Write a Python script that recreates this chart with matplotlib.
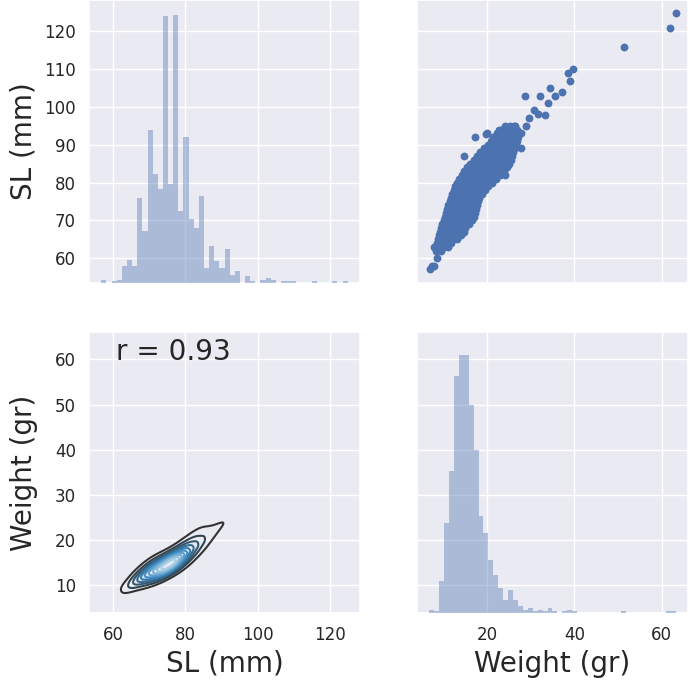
import numpy as np
import matplotlib
matplotlib.use("Agg")
import matplotlib.pyplot as plt
import seaborn as sns
from matplotlib.colors import LinearSegmentedColormap
from matplotlib.ticker import MultipleLocator, MaxNLocator

# --- histogram counts ---
sl_lo, sl_hi = 56.8, 124.9
sl_counts = [2, 0, 1, 2, 10, 14, 10, 51, 31, 91, 65, 56, 159, 59, 160, 43,
             87, 38, 33, 52, 9, 22, 13, 9, 20, 5, 7, 0, 4, 1, 0, 2,
             3, 2, 0, 1, 1, 1, 0, 0, 0, 1, 0, 0, 0, 1, 0, 1]

wt_lo, wt_hi = 6.74, 63.2
wt_counts = [2, 1, 19, 54, 85, 142, 155, 155, 125, 98, 58, 48, 32, 23, 15, 8,
             14, 8, 4, 2, 3, 1, 2, 1, 3, 1, 0, 1, 2, 1, 0, 0,
             0, 0, 0, 0, 0, 0, 0, 1, 0, 0, 0, 0, 0, 0, 0, 0, 1, 1]

# --- scatter cloud: one row per SL (mm), the weights seen across the band,
#     and how many fish sit on each dot (used for the density contours) ---
row_sl = [57, 58, 60, 62, 63, 64, 65, 66, 67, 68, 69, 70, 71, 72, 73, 74, 75, 76,
          77, 78, 79, 80, 81, 82, 83, 84, 85, 86, 87, 88, 89, 90, 91, 92, 93, 94, 95]
row_wt = [
    [6.9],
    [7.3, 7.8],
    [8.5],
    [8.3, 9.4],
    [8.0, 9.0, 10.0, 11.0],
    [8.5, 9.6, 10.7, 11.8],
    [8.8, 9.9, 11.0, 12.1, 13.0],
    [9.0, 10.0, 11.0, 12.0, 13.0, 13.9],
    [9.2, 10.3, 11.4, 12.5, 13.6, 14.6],
    [9.4, 10.5, 11.6, 12.7, 13.8, 14.9],
    [9.7, 10.8, 11.9, 13.0, 14.1, 15.2, 15.9],
    [10.0, 11.1, 12.2, 13.3, 14.4, 15.5, 16.5],
    [10.3, 11.4, 12.5, 13.6, 14.7, 15.8, 16.9],
    [10.6, 11.7, 12.8, 13.9, 15.0, 16.1, 17.2],
    [10.8, 11.9, 13.0, 14.1, 15.2, 16.3, 17.4],
    [11.1, 12.2, 13.3, 14.4, 15.5, 16.6, 17.7],
    [11.5, 12.6, 13.7, 14.8, 15.9, 17.0, 17.9],
    [11.8, 12.9, 14.0, 15.1, 16.2, 17.3, 18.2],
    [12.0, 13.1, 14.2, 15.3, 16.4, 17.5, 18.8],
    [12.3, 13.5, 14.7, 15.9, 17.1, 18.3, 19.5],
    [12.6, 13.8, 15.0, 16.2, 17.4, 18.6, 20.2],
    [13.1, 14.3, 15.5, 16.7, 17.9, 19.1, 20.3, 21.0],
    [13.6, 14.8, 16.0, 17.2, 18.4, 19.6, 20.8, 22.0],
    [14.2, 15.4, 16.6, 17.8, 19.0, 20.2, 21.4, 23.0],
    [14.7, 15.9, 17.1, 18.3, 19.5, 20.7, 21.9, 23.1, 23.8],
    [15.3, 16.5, 17.7, 18.9, 20.1, 21.3, 22.5, 23.7, 24.5],
    [16.0, 17.2, 18.4, 19.6, 20.8, 22.0, 23.2, 24.4, 25.0],
    [17.0, 18.2, 19.4, 20.6, 21.8, 23.0, 24.2, 25.5],
    [17.6, 18.8, 20.0, 21.2, 22.4, 23.6, 24.8, 25.8],
    [18.3, 19.5, 20.7, 21.9, 23.1, 24.3, 25.5, 26.0],
    [19.2, 20.4, 21.6, 22.8, 24.0, 25.2, 26.3],
    [20.2, 21.4, 22.6, 23.8, 25.0, 26.6],
    [20.8, 22.0, 23.2, 24.4, 25.6, 26.9],
    [21.3, 22.5, 23.7, 24.9, 26.1, 27.1],
    [22.2, 23.4, 24.6, 25.8, 27.2],
    [23.2, 24.4, 25.6, 26.8],
    [24.0, 25.2, 26.4],
]
row_n = [
    [1],
    [1, 1],
    [1],
    [1, 1],
    [1, 2, 2, 1],
    [1, 3, 3, 1],
    [1, 3, 4, 2, 1],
    [1, 2, 3, 2, 1, 1],
    [1, 6, 11, 8, 3, 1],
    [1, 4, 9, 7, 3, 1],
    [1, 3, 8, 8, 4, 1, 1],
    [2, 7, 17, 19, 11, 4, 1],
    [1, 6, 14, 16, 9, 3, 1],
    [1, 5, 13, 14, 8, 3, 1],
    [1, 5, 12, 12, 7, 2, 1],
    [2, 12, 30, 35, 18, 6, 2],
    [1, 7, 17, 20, 11, 4, 1],
    [1, 5, 13, 14, 8, 3, 1],
    [1, 8, 26, 34, 22, 9, 2],
    [1, 5, 14, 20, 14, 6, 2],
    [1, 3, 8, 10, 6, 3, 1],
    [1, 4, 11, 15, 12, 7, 3, 1],
    [1, 2, 4, 7, 7, 5, 3, 1],
    [1, 1, 4, 6, 6, 4, 2, 1],
    [1, 1, 3, 5, 5, 3, 2, 1, 1],
    [1, 2, 5, 8, 7, 5, 3, 1, 1],
    [1, 1, 1, 2, 2, 1, 1, 1, 1],
    [1, 1, 1, 2, 1, 1, 1, 1],
    [1, 1, 2, 3, 3, 2, 1, 1],
    [1, 1, 2, 2, 2, 1, 1, 1],
    [1, 1, 1, 2, 1, 1, 1],
    [1, 1, 1, 2, 1, 1],
    [1, 2, 3, 3, 2, 1],
    [1, 1, 1, 1, 1, 1],
    [1, 1, 1, 1, 1],
    [1, 1, 2, 1],
    [1, 1, 1],
]

# single fish away from the main cloud
out_wt = [63.2, 61.9, 51.4, 39.7, 38.6, 38.9, 34.5, 37.2, 35.6, 34.0, 32.2, 28.7,
          30.7, 31.6, 33.3, 29.7, 29.0, 27.8, 27.8, 22.8, 17.1, 19.8, 14.8, 24.6,
          24.2, 20.0, 26.1, 7.9]
out_sl = [124.9, 120.8, 115.9, 110.0, 108.9, 106.9, 104.9, 104.0, 102.9, 101.0, 102.9, 102.9,
          99.1, 98.0, 97.8, 97.0, 94.9, 93.0, 89.0, 94.0, 92.0, 92.9, 87.1, 85.0,
          82.1, 93.2, 94.9, 63.0]

r_value = 0.93

blue = "#4C72B0"


def weighted_kde(x, y, w, gx, gy):
    """ Gaussian KDE (Scott bandwidth) on a grid, with per-point weights """
    data = np.vstack([x, y])
    cov = np.cov(data, aweights=w)
    kcov = cov * w.sum() ** (-2.0 / 6.0)
    inv = np.linalg.inv(kcov)
    xx, yy = np.meshgrid(gx, gy)
    pts = np.stack([xx.ravel(), yy.ravel()])
    diff = pts[:, :, None] - data[:, None, :]
    q = np.einsum('igk,ij,jgk->gk', diff, inv, diff)
    dens = (np.exp(-0.5 * q) * w).sum(axis=1) / w.sum()
    dens /= 2 * np.pi * np.sqrt(np.linalg.det(kcov))
    return xx, yy, dens.reshape(xx.shape)


def draw_hist(ax, lo, hi, counts, headroom):
    edges = np.linspace(lo, hi, len(counts) + 1)
    hax = ax.twinx()
    hax.bar(edges[:-1], counts, width=np.diff(edges), align='edge',
            color=blue, alpha=0.4, linewidth=0)
    hax.set_ylim(0, max(counts) * headroom)
    hax.set_yticks([])
    hax.grid(False)
    for sp in hax.spines.values():
        sp.set_visible(False)


sns.set_theme(style="darkgrid")
plt.rcParams['font.family'] = ['DejaVu Sans']

fig = plt.figure(figsize=(6.89, 6.80), dpi=100)
ax_tl = fig.add_axes([0.1292, 0.5838, 0.3933, 0.4162])
ax_tr = fig.add_axes([0.6052, 0.5838, 0.3933, 0.4162], sharey=ax_tl)
ax_bl = fig.add_axes([0.1292, 0.0985, 0.3933, 0.4132], sharex=ax_tl)
ax_br = fig.add_axes([0.6052, 0.0985, 0.3933, 0.4132], sharex=ax_tr, sharey=ax_bl)

sl_pad = 0.05 * (sl_hi - sl_lo)
wt_pad = 0.05 * (wt_hi - wt_lo)
ax_tl.set_xlim(sl_lo - sl_pad, sl_hi + sl_pad)
ax_tl.set_ylim(sl_lo - sl_pad, sl_hi + sl_pad)
ax_tr.set_xlim(wt_lo - wt_pad, wt_hi + wt_pad)
ax_bl.set_ylim(wt_lo - wt_pad, wt_hi + wt_pad)

# flatten the cloud
pts_sl, pts_wt, pts_n = [], [], []
for s, ws, ns in zip(row_sl, row_wt, row_n):
    for w, n in zip(ws, ns):
        pts_sl.append(s)
        pts_wt.append(w)
        pts_n.append(n)
pts_sl += out_sl
pts_wt += out_wt
pts_n += [1] * len(out_sl)
pts_sl = np.array(pts_sl, dtype=float)
pts_wt = np.array(pts_wt, dtype=float)
pts_n = np.array(pts_n, dtype=float)

# diagonal histograms
draw_hist(ax_tl, sl_lo, sl_hi, sl_counts, 1.055)
draw_hist(ax_br, wt_lo, wt_hi, wt_counts, 1.087)

# upper: scatter
ax_tr.scatter(pts_wt, pts_sl, s=32, color=blue, linewidths=0)

# lower: density contours
xlim = ax_bl.get_xlim()
ylim = ax_bl.get_ylim()
gx = np.linspace(xlim[0], xlim[1], 250)
gy = np.linspace(ylim[0], ylim[1], 250)
xx, yy, zz = weighted_kde(pts_sl, pts_wt, pts_n, gx, gy)
levels = MaxNLocator(11).tick_values(zz.min(), zz.max())
levels = levels[(levels > zz.max() * 1e-3) & (levels < zz.max())]
blues = plt.get_cmap("Blues")
kde_cmap = LinearSegmentedColormap.from_list(
    "blues_d", ["#333333", blues(2 / 3), blues(1 / 3)])
ax_bl.contour(xx, yy, zz, levels=levels, cmap=kde_cmap, linewidths=1.5)
ax_bl.set_xlim(xlim)
ax_bl.set_ylim(ylim)
ax_bl.annotate(f"r = {r_value:.2f}", xy=(0.1, 0.9), xycoords=ax_bl.transAxes,
               fontsize=20, color="#262626")

ax_tl.xaxis.set_major_locator(MultipleLocator(20))
ax_tl.yaxis.set_major_locator(MultipleLocator(10))
ax_tr.xaxis.set_major_locator(MultipleLocator(20))
ax_bl.yaxis.set_major_locator(MultipleLocator(10))

for ax in (ax_tl, ax_tr, ax_bl, ax_br):
    ax.tick_params(labelsize=12, left=False, right=False, bottom=False, top=False)
ax_tl.tick_params(labelbottom=False)
ax_tr.tick_params(labelbottom=False, labelleft=False)
ax_br.tick_params(labelleft=False)

ax_tl.set_ylabel("SL (mm)", fontsize=20)
ax_bl.set_ylabel("Weight (gr)", fontsize=20)
ax_bl.set_xlabel("SL (mm)", fontsize=20)
ax_br.set_xlabel("Weight (gr)", fontsize=20)
ax_tl.yaxis.set_label_coords(-0.19, 0.5)
ax_bl.yaxis.set_label_coords(-0.19, 0.5)

fig.savefig("out.png", dpi=100)
